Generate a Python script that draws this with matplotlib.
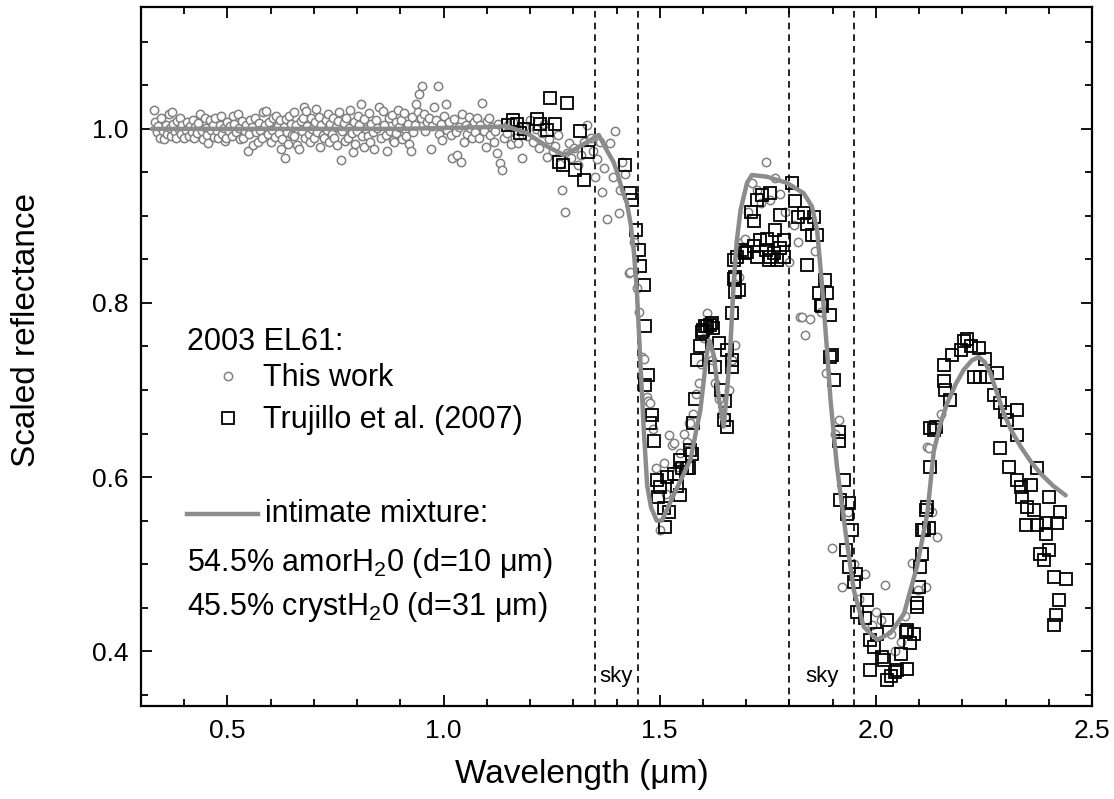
import matplotlib
matplotlib.use("Agg")
import matplotlib.pyplot as plt
from matplotlib.ticker import MultipleLocator, FormatStrFormatter
from matplotlib.lines import Line2D

plt.rcParams['font.family'] = ['Liberation Sans', 'DejaVu Sans']
plt.rcParams['mathtext.default'] = 'regular'

# "This work" spectrum (circles)
this_work_wl = [
    0.330, 0.333, 0.336, 0.340, 0.343, 0.347, 0.350, 0.353, 0.357, 0.360, 0.364, 0.367, 0.370, 0.372,
    0.375, 0.378, 0.381, 0.384, 0.387, 0.390, 0.393, 0.396, 0.400, 0.403, 0.406, 0.410, 0.413, 0.417,
    0.420, 0.423, 0.426, 0.430, 0.433, 0.436, 0.440, 0.443, 0.447, 0.450, 0.453, 0.456, 0.459, 0.462,
    0.466, 0.469, 0.472, 0.475, 0.478, 0.482, 0.485, 0.488, 0.491, 0.494, 0.497, 0.500, 0.504, 0.507,
    0.510, 0.513, 0.516, 0.520, 0.524, 0.527, 0.530, 0.533, 0.536, 0.540, 0.543, 0.547, 0.550, 0.553,
    0.556, 0.560, 0.563, 0.566, 0.570, 0.573, 0.576, 0.579, 0.582, 0.586, 0.590, 0.593, 0.596, 0.600,
    0.603, 0.606, 0.609, 0.613, 0.616, 0.619, 0.622, 0.624, 0.627, 0.630, 0.632, 0.635, 0.638, 0.641,
    0.643, 0.646, 0.650, 0.653, 0.655, 0.658, 0.662, 0.666, 0.669, 0.672, 0.675, 0.678, 0.680, 0.682,
    0.685, 0.688, 0.690, 0.693, 0.696, 0.700, 0.703, 0.705, 0.708, 0.711, 0.713, 0.716, 0.720, 0.724,
    0.727, 0.730, 0.732, 0.735, 0.738, 0.741, 0.744, 0.747, 0.750, 0.753, 0.756, 0.759, 0.763, 0.766,
    0.769, 0.772, 0.775, 0.778, 0.781, 0.784, 0.787, 0.790, 0.793, 0.796, 0.799, 0.801, 0.805, 0.809,
    0.812, 0.815, 0.817, 0.820, 0.824, 0.827, 0.830, 0.833, 0.836, 0.840, 0.843, 0.847, 0.851, 0.855,
    0.859, 0.862, 0.866, 0.870, 0.873, 0.876, 0.880, 0.883, 0.886, 0.889, 0.891, 0.894, 0.897, 0.901,
    0.904, 0.908, 0.911, 0.913, 0.917, 0.920, 0.924, 0.927, 0.930, 0.933, 0.936, 0.940, 0.944, 0.948,
    0.951, 0.955, 0.958, 0.962, 0.967, 0.971, 0.974, 0.978, 0.982, 0.986, 0.990, 0.993, 0.997, 1.001,
    1.005, 1.009, 1.013, 1.017, 1.020, 1.024, 1.028, 1.032, 1.036, 1.040, 1.043, 1.047, 1.051, 1.055,
    1.058, 1.062, 1.066, 1.070, 1.073, 1.077, 1.081, 1.085, 1.089, 1.093, 1.097, 1.100, 1.104, 1.108,
    1.112, 1.116, 1.120, 1.123, 1.127, 1.131, 1.135, 1.140, 1.146, 1.150, 1.155, 1.160, 1.166, 1.173,
    1.178, 1.181, 1.187, 1.193, 1.200, 1.207, 1.214, 1.220, 1.228, 1.233, 1.239, 1.245, 1.252, 1.258,
    1.265, 1.270, 1.274, 1.281, 1.285, 1.289, 1.295, 1.302, 1.310, 1.318, 1.325, 1.332, 1.340, 1.345,
    1.351, 1.356, 1.361, 1.366, 1.372, 1.378, 1.386, 1.392, 1.397, 1.405, 1.409, 1.413, 1.420, 1.428,
    1.432, 1.440, 1.447, 1.452, 1.459, 1.463, 1.470, 1.474, 1.478, 1.485, 1.492, 1.501, 1.509, 1.515,
    1.521, 1.528, 1.532, 1.540, 1.548, 1.555, 1.563, 1.567, 1.571, 1.578, 1.585, 1.590, 1.596, 1.602,
    1.609, 1.614, 1.622, 1.628, 1.636, 1.644, 1.651, 1.660, 1.667, 1.675, 1.683, 1.690, 1.698, 1.705,
    1.713, 1.725, 1.735, 1.745, 1.756, 1.767, 1.778, 1.790, 1.798, 1.810, 1.820, 1.825, 1.829, 1.837,
    1.848, 1.860, 1.872, 1.885, 1.899, 1.905, 1.914, 1.922, 1.935, 1.950, 1.962, 1.976, 1.990, 2.000,
    2.011, 2.022, 2.035, 2.045, 2.057, 2.068, 2.084, 2.098, 2.115, 2.119, 2.122, 2.130, 2.142, 2.150,
]
this_work_refl = [
    1.022, 1.008, 0.996, 1.003, 0.990, 1.012, 0.998, 0.988, 1.005, 0.994, 1.017, 1.001, 0.992, 1.019,
    1.006, 0.996, 0.990, 1.009, 1.000, 1.012, 0.994, 1.004, 0.989, 0.999, 1.008, 0.992, 1.003, 0.996,
    1.010, 0.990, 1.002, 0.995, 1.007, 1.017, 0.998, 0.988, 1.013, 1.001, 0.993, 0.984, 1.010, 0.999,
    1.005, 0.991, 1.012, 0.997, 0.989, 1.004, 1.015, 0.994, 1.001, 0.986, 0.990, 1.008, 0.997, 1.003,
    0.992, 1.015, 1.006, 0.996, 1.017, 1.001, 0.988, 1.009, 0.990, 0.998, 1.005, 0.975, 0.994, 1.010,
    1.002, 0.982, 1.012, 0.996, 0.985, 1.007, 0.999, 0.990, 1.019, 1.004, 1.021, 0.994, 1.008, 0.985,
    0.999, 1.013, 0.991, 1.015, 1.003, 0.995, 1.010, 0.977, 0.988, 1.002, 0.966, 1.011, 0.996, 0.983,
    1.015, 1.006, 0.993, 1.019, 0.992, 1.004, 0.981, 0.977, 1.009, 0.997, 1.012, 1.025, 0.989, 1.021,
    1.003, 0.994, 0.985, 1.013, 1.000, 0.990, 1.008, 1.023, 0.996, 1.014, 0.979, 1.004, 0.993, 0.989,
    1.010, 0.999, 1.017, 0.985, 1.006, 0.994, 1.012, 0.990, 1.002, 0.981, 1.009, 1.019, 0.964, 0.997,
    1.007, 0.986, 1.013, 0.989, 1.001, 1.022, 0.995, 0.973, 1.008, 0.983, 0.997, 1.015, 1.004, 1.029,
    0.992, 1.011, 0.979, 1.000, 0.992, 1.018, 0.985, 1.006, 0.996, 0.977, 1.010, 1.001, 1.025, 0.990,
    1.021, 1.004, 0.993, 0.975, 1.012, 0.998, 1.016, 0.987, 0.985, 1.008, 0.995, 1.022, 1.002, 1.010,
    0.988, 1.018, 1.000, 0.992, 1.006, 0.983, 0.975, 1.014, 0.996, 1.004, 1.029, 1.019, 1.040, 1.012,
    1.049, 1.017, 0.998, 1.008, 1.013, 0.977, 1.003, 1.025, 1.010, 1.049, 0.994, 1.006, 0.987, 1.015,
    1.029, 0.999, 1.008, 0.993, 0.966, 1.011, 0.996, 0.970, 1.002, 0.962, 1.017, 0.985, 1.005, 0.994,
    1.014, 1.001, 0.989, 1.008, 0.996, 1.012, 0.990, 1.004, 1.030, 0.998, 0.979, 1.009, 1.012, 0.993,
    1.002, 0.985, 0.997, 0.972, 1.006, 0.961, 0.953, 0.990, 0.995, 1.004, 0.983, 1.008, 0.990, 0.984,
    0.999, 0.966, 1.002, 0.992, 1.010, 0.985, 1.000, 0.978, 0.995, 1.006, 0.968, 0.988, 0.975, 0.980,
    0.993, 0.960, 0.930, 0.905, 0.972, 0.984, 0.966, 0.978, 0.958, 0.970, 0.985, 1.005, 0.990, 0.975,
    0.945, 0.965, 0.985, 0.928, 0.955, 0.897, 0.984, 0.945, 0.997, 0.903, 0.930, 0.962, 0.948, 0.834,
    0.836, 0.870, 0.817, 0.790, 0.738, 0.736, 0.692, 0.687, 0.685, 0.655, 0.610, 0.539, 0.616, 0.580,
    0.648, 0.637, 0.639, 0.612, 0.628, 0.650, 0.640, 0.662, 0.662, 0.673, 0.695, 0.708, 0.730, 0.760,
    0.788, 0.770, 0.735, 0.708, 0.690, 0.672, 0.669, 0.700, 0.735, 0.752, 0.830, 0.870, 0.874, 0.905,
    0.938, 0.930, 0.915, 0.962, 0.918, 0.943, 0.925, 0.905, 0.847, 0.890, 0.870, 0.784, 0.784, 0.763,
    0.782, 0.860, 0.790, 0.720, 0.518, 0.650, 0.666, 0.474, 0.560, 0.500, 0.460, 0.489, 0.430, 0.445,
    0.436, 0.476, 0.420, 0.400, 0.411, 0.440, 0.501, 0.470, 0.474, 0.635, 0.633, 0.560, 0.531, 0.673,
]

# Trujillo et al. (2007) spectrum (squares)
trujillo_wl = [
    1.150, 1.160, 1.170, 1.177, 1.185, 1.216, 1.224, 1.239, 1.247, 1.258, 1.266, 1.277, 1.285, 1.305,
    1.316, 1.324, 1.335, 1.420, 1.432, 1.436, 1.444, 1.451, 1.455, 1.463, 1.467, 1.467, 1.474, 1.478,
    1.482, 1.486, 1.493, 1.497, 1.501, 1.509, 1.513, 1.517, 1.521, 1.532, 1.540, 1.547, 1.547, 1.551,
    1.563, 1.567, 1.571, 1.574, 1.578, 1.582, 1.586, 1.594, 1.598, 1.601, 1.605, 1.609, 1.617, 1.620,
    1.624, 1.628, 1.636, 1.641, 1.648, 1.651, 1.655, 1.655, 1.667, 1.667, 1.667, 1.671, 1.671, 1.675,
    1.675, 1.678, 1.683, 1.690, 1.698, 1.702, 1.710, 1.718, 1.718, 1.725, 1.725, 1.733, 1.737, 1.745,
    1.748, 1.752, 1.756, 1.756, 1.764, 1.767, 1.771, 1.779, 1.779, 1.787, 1.787, 1.806, 1.814, 1.821,
    1.833, 1.841, 1.841, 1.852, 1.856, 1.864, 1.868, 1.872, 1.876, 1.883, 1.887, 1.895, 1.895, 1.899,
    1.903, 1.914, 1.914, 1.918, 1.926, 1.930, 1.933, 1.937, 1.937, 1.945, 1.949, 1.953, 1.957, 1.976,
    1.980, 1.987, 1.987, 1.995, 2.003, 2.014, 2.018, 2.026, 2.026, 2.034, 2.045, 2.049, 2.057, 2.069,
    2.072, 2.072, 2.080, 2.088, 2.095, 2.095, 2.099, 2.103, 2.107, 2.107, 2.111, 2.115, 2.119, 2.122,
    2.126, 2.126, 2.134, 2.138, 2.157, 2.157, 2.161, 2.172, 2.176, 2.196, 2.203, 2.211, 2.219, 2.226,
    2.238, 2.241, 2.253, 2.257, 2.273, 2.280, 2.288, 2.288, 2.299, 2.303, 2.307, 2.326, 2.326, 2.327,
    2.335, 2.338, 2.347, 2.350, 2.358, 2.365, 2.373, 2.373, 2.380, 2.389, 2.393, 2.393, 2.400, 2.400,
    2.413, 2.413, 2.416, 2.420, 2.424, 2.427, 2.439,
]
trujillo_refl = [
    1.005, 1.010, 1.006, 0.995, 1.000, 1.011, 1.006, 0.999, 1.035, 1.006, 0.962, 0.959, 1.030, 0.953,
    0.997, 0.941, 0.974, 0.959, 0.926, 0.918, 0.884, 0.861, 0.842, 0.821, 0.773, 0.706, 0.717, 0.662,
    0.671, 0.641, 0.597, 0.577, 0.589, 0.564, 0.543, 0.600, 0.560, 0.604, 0.590, 0.579, 0.620, 0.610,
    0.610, 0.610, 0.631, 0.627, 0.662, 0.690, 0.734, 0.750, 0.767, 0.769, 0.773, 0.773, 0.775, 0.777,
    0.771, 0.727, 0.754, 0.700, 0.665, 0.687, 0.658, 0.746, 0.727, 0.788, 0.734, 0.828, 0.849, 0.813,
    0.830, 0.853, 0.815, 0.861, 0.857, 0.859, 0.905, 0.894, 0.865, 0.918, 0.853, 0.872, 0.924, 0.861,
    0.874, 0.849, 0.926, 0.853, 0.857, 0.884, 0.849, 0.901, 0.863, 0.872, 0.853, 0.938, 0.917, 0.899,
    0.903, 0.891, 0.844, 0.878, 0.899, 0.878, 0.811, 0.798, 0.796, 0.826, 0.811, 0.786, 0.738, 0.740,
    0.711, 0.652, 0.641, 0.574, 0.597, 0.516, 0.558, 0.570, 0.497, 0.539, 0.480, 0.489, 0.445, 0.438,
    0.459, 0.413, 0.378, 0.405, 0.420, 0.393, 0.390, 0.436, 0.367, 0.372, 0.376, 0.378, 0.397, 0.422,
    0.380, 0.424, 0.409, 0.420, 0.455, 0.451, 0.474, 0.497, 0.512, 0.539, 0.539, 0.562, 0.566, 0.541,
    0.612, 0.656, 0.654, 0.658, 0.710, 0.729, 0.700, 0.689, 0.740, 0.746, 0.756, 0.759, 0.750, 0.715,
    0.748, 0.715, 0.736, 0.715, 0.694, 0.719, 0.685, 0.633, 0.675, 0.666, 0.612, 0.677, 0.648, 0.597,
    0.589, 0.577, 0.545, 0.566, 0.591, 0.562, 0.610, 0.545, 0.512, 0.505, 0.547, 0.535, 0.577, 0.516,
    0.485, 0.430, 0.441, 0.547, 0.459, 0.560, 0.483,
]

# Intimate mixture model
model_wl = [
    0.325, 0.500, 0.700, 0.900, 1.000, 1.100, 1.146, 1.193, 1.239, 1.278, 1.309, 1.339, 1.359, 1.378,
    1.393, 1.401, 1.413, 1.424, 1.433, 1.440, 1.447, 1.455, 1.463, 1.471, 1.480, 1.493, 1.505, 1.531,
    1.571, 1.594, 1.609, 1.615, 1.625, 1.637, 1.648, 1.656, 1.663, 1.671, 1.678, 1.687, 1.702, 1.713,
    1.748, 1.794, 1.833, 1.852, 1.864, 1.875, 1.887, 1.895, 1.910, 1.930, 1.949, 1.972, 2.003, 2.034,
    2.065, 2.095, 2.119, 2.134, 2.150, 2.165, 2.185, 2.203, 2.222, 2.238, 2.252, 2.265, 2.280, 2.296,
    2.315, 2.335, 2.358, 2.381, 2.410, 2.439,
]
model_refl = [
    1.000, 1.000, 1.000, 1.000, 1.001, 1.002, 1.003, 0.995, 0.980, 0.970, 0.978, 0.987, 0.993, 0.975,
    0.962, 0.951, 0.930, 0.915, 0.890, 0.860, 0.815, 0.735, 0.655, 0.590, 0.565, 0.550, 0.550, 0.578,
    0.620, 0.677, 0.742, 0.757, 0.740, 0.690, 0.658, 0.700, 0.746, 0.823, 0.870, 0.907, 0.938, 0.947,
    0.945, 0.938, 0.926, 0.911, 0.884, 0.823, 0.746, 0.689, 0.612, 0.536, 0.470, 0.428, 0.413, 0.421,
    0.443, 0.497, 0.558, 0.630, 0.662, 0.685, 0.707, 0.723, 0.734, 0.738, 0.732, 0.719, 0.697, 0.673,
    0.652, 0.635, 0.618, 0.604, 0.590, 0.579,
]

# Telluric bands
sky_edges = [1.35, 1.45, 1.80, 1.95]

fig = plt.figure(figsize=(11.14, 7.99), dpi=100)
ax = fig.add_axes([141 / 1114, 1 - 706 / 799, (1092 - 141) / 1114, (706 - 7) / 799])

circle_color = '#808080'
model_color = '#8c8c8c'

ax.plot(this_work_wl, this_work_refl, linestyle='none', marker='o', markersize=6,
        markerfacecolor='white', markeredgecolor=circle_color, markeredgewidth=1.1, zorder=2)
ax.plot(trujillo_wl, trujillo_refl, linestyle='none', marker='s', markersize=8,
        markerfacecolor='none', markeredgecolor='black', markeredgewidth=1.3, zorder=3)
ax.plot(model_wl, model_refl, color=model_color, linewidth=3.2, solid_joinstyle='round',
        solid_capstyle='round', zorder=4)

for xv in sky_edges:
    ax.axvline(xv, color='black', linestyle=(0, (4, 3)), linewidth=1.2, zorder=1)

ax.text(1.40, 0.371, 'sky', ha='center', va='center', fontsize=16)
ax.text(1.875, 0.371, 'sky', ha='center', va='center', fontsize=16)

ax.set_xlim(0.3, 2.5)
ax.set_ylim(0.337, 1.140)
ax.xaxis.set_major_locator(MultipleLocator(0.5))
ax.xaxis.set_minor_locator(MultipleLocator(0.1))
ax.yaxis.set_major_locator(MultipleLocator(0.2))
ax.yaxis.set_minor_locator(MultipleLocator(0.05))
ax.xaxis.set_major_formatter(FormatStrFormatter('%.1f'))
ax.yaxis.set_major_formatter(FormatStrFormatter('%.1f'))
ax.tick_params(which='both', direction='in', top=True, right=True, width=1.3, labelsize=19)
ax.tick_params(which='major', length=8, pad=9)
ax.tick_params(which='minor', length=5)
for sp in ax.spines.values():
    sp.set_linewidth(1.6)

ax.set_xlabel('Wavelength (μm)', fontsize=24)
ax.set_ylabel('Scaled reflectance', fontsize=24)
ax.xaxis.set_label_coords((582 - 141) / 951, (706 - 775) / 699)
ax.yaxis.set_label_coords((27 - 141) / 951, (706 - 330) / 699)
ax.xaxis.label.set_va('center')
ax.yaxis.label.set_va('center')

# Legend block
def afx(px):
    return (px - 141) / (1092 - 141)

def afy(py):
    return (706 - py) / (706 - 7)

fs = 22
ax.text(afx(187), afy(342), '2003 EL61:', transform=ax.transAxes, fontsize=fs, va='center', ha='left')
ax.add_line(Line2D([afx(228)], [afy(376)], transform=ax.transAxes, linestyle='none', marker='o',
                   markersize=6, markerfacecolor='white', markeredgecolor=circle_color, markeredgewidth=1.1))
ax.text(afx(263), afy(378), 'This work', transform=ax.transAxes, fontsize=fs, va='center', ha='left')
ax.add_line(Line2D([afx(228)], [afy(418)], transform=ax.transAxes, linestyle='none', marker='s',
                   markersize=8, markerfacecolor='none', markeredgecolor='black', markeredgewidth=1.3))
ax.text(afx(263), afy(420), 'Trujillo et al. (2007)', transform=ax.transAxes, fontsize=fs, va='center', ha='left')
ax.add_line(Line2D([afx(187), afx(258)], [afy(514), afy(514)], transform=ax.transAxes,
                   color=model_color, linewidth=3.2))
ax.text(afx(265), afy(514), 'intimate mixture:', transform=ax.transAxes, fontsize=fs, va='center', ha='left')
ax.text(afx(187), afy(563), '54.5% amorH$_2$0 (d=10 μm)', transform=ax.transAxes, fontsize=fs,
        va='center', ha='left')
ax.text(afx(187), afy(607), '45.5% crystH$_2$0 (d=31 μm)', transform=ax.transAxes, fontsize=fs,
        va='center', ha='left')

fig.savefig('out.png', dpi=100)
